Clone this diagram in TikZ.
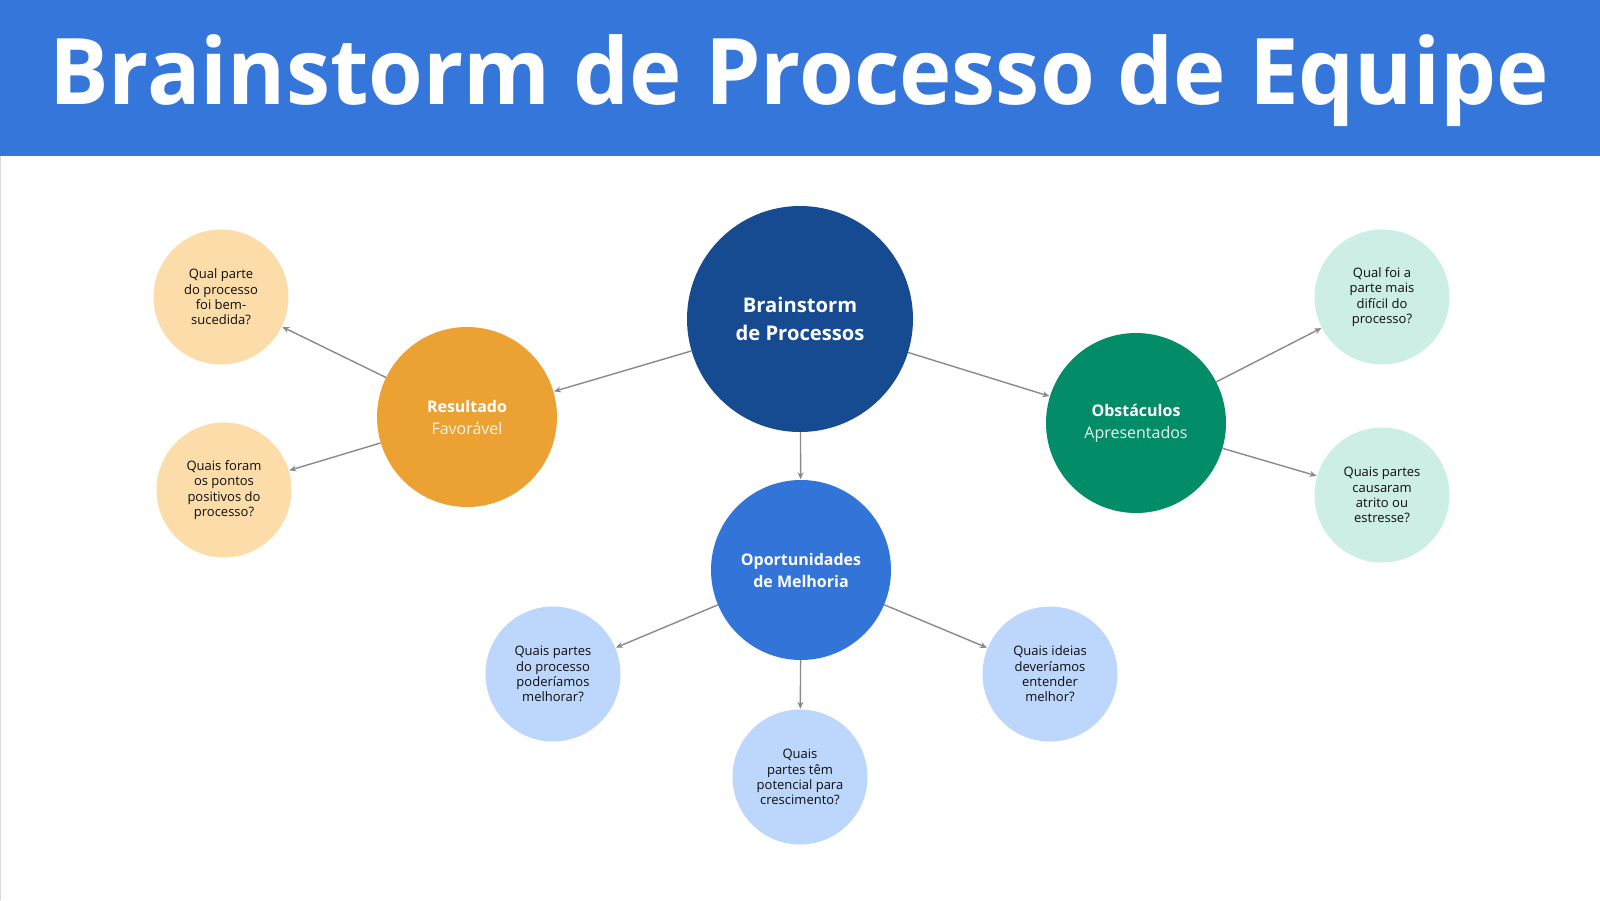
\documentclass[tikz,border=0pt]{standalone}
\usepackage{fontspec}
\setmainfont{Open Sans}
\newfontfamily\titlefont{Open Sans}
\usetikzlibrary{arrows.meta}
\definecolor{headblue}{HTML}{3476D9}
\definecolor{darkblue}{HTML}{164A91}
\definecolor{orangec}{HTML}{EBA232}
\definecolor{lightorange}{HTML}{FCDDAA}
\definecolor{greenc}{HTML}{028C68}
\definecolor{lightgreen}{HTML}{CDEEE4}
\definecolor{midblue}{HTML}{3374D9}
\definecolor{lightblue}{HTML}{BDD7FC}
\definecolor{edgegray}{HTML}{8A8A8A}
\definecolor{txt}{HTML}{0D0D0D}
\tikzset{
  mainc/.style={circle, draw=none, fill=darkblue, minimum size=226pt, inner sep=0pt, align=center, text=white,
    font=\fontsize{20.2}{28.5}\selectfont\bfseries},
  midc/.style={circle, draw=none, minimum size=180pt, inner sep=0pt, align=center, text=white,
    font=\fontsize{16}{22}\selectfont},
  smallc/.style={circle, draw=none, minimum size=135pt, inner sep=0pt, align=center, text=txt,
    font=\fontsize{13}{15.3}\selectfont},
  conn/.style={draw=edgegray, line width=1.4pt, -{Stealth[length=7pt,width=6pt]}, shorten >=0.5pt}
}
\begin{document}
\begin{tikzpicture}[x=1pt,y=-1pt]
\useasboundingbox (0,0) rectangle (1600,900);
\fill[white] (0,0) rectangle (1600,900);
\fill[headblue] (0,0) rectangle (1600,156);
\draw[black!15, line width=1pt] (0.5,156) -- (0.5,900);
\node[text=white, font=\fontsize{92}{100}\selectfont\titlefont\bfseries, anchor=base, inner sep=0pt] (title) at (799,104) {\scalebox{0.963}[1]{Brainstorm de Processo de Equipe}};

\node[mainc] (center) at (800,319) {Brainstorm\\de Processos};
\node[midc, fill=orangec] (res) at (467,417) {\textbf{Resultado}\\{\color{white!88!orangec}Favorável}};
\node[midc, fill=greenc] (obs) at (1136,423) {\textbf{Obstáculos}\\{\color{white!90!greenc}Apresentados}};
\node[midc, fill=midblue] (opo) at (801,570) {\textbf{Oportunidades}\\\textbf{de Melhoria}};

\node[smallc, fill=lightorange] (r1) at (221,297) {Qual parte\\do processo\\foi bem-\\sucedida?};
\node[smallc, fill=lightorange] (r2) at (224,490) {Quais foram\\os pontos\\positivos do\\processo?};
\node[smallc, fill=lightgreen] (o1) at (1382,297) {Qual foi a\\parte mais\\difícil do\\processo?};
\node[smallc, fill=lightgreen] (o2) at (1382,495) {Quais partes\\causaram\\atrito ou\\estresse?};
\node[smallc, fill=lightblue] (p1) at (553,674) {Quais partes\\do processo\\poderíamos\\melhorar?};
\node[smallc, fill=lightblue] (p2) at (800,777) {Quais\\partes têm\\potencial para\\crescimento?};
\node[smallc, fill=lightblue] (p3) at (1050,674) {Quais ideias\\deveríamos\\entender\\melhor?};

\draw[conn] (center) -- (res);
\draw[conn] (center) -- (obs);
\draw[conn] (center) -- (opo);
\draw[conn] (res) -- (r1);
\draw[conn] (res) -- (r2);
\draw[conn] (obs) -- (o1);
\draw[conn] (obs) -- (o2);
\draw[conn] (opo) -- (p1);
\draw[conn] (opo) -- (p2);
\draw[conn] (opo) -- (p3);
\end{tikzpicture}
\end{document}
